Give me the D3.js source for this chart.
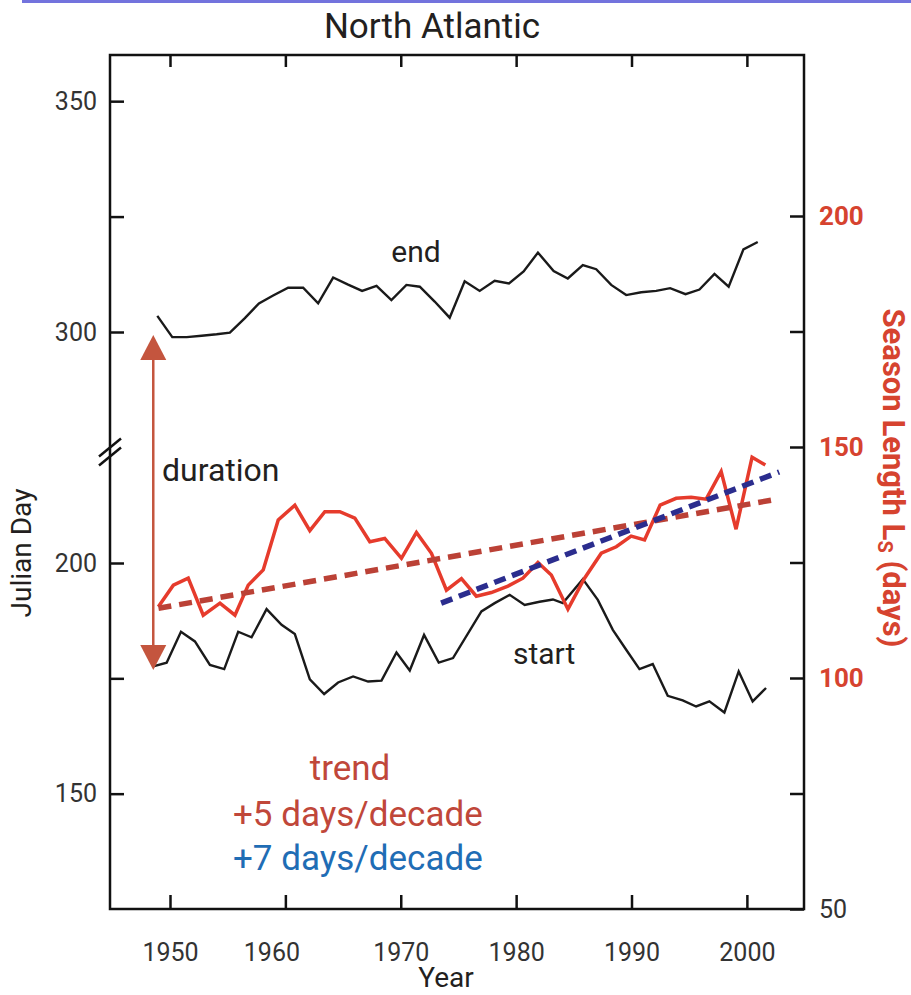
<!DOCTYPE html>
<html>
<head>
<meta charset="utf-8">
<script src="https://cdn.jsdelivr.net/npm/d3@7"></script>
<style>
  body { margin: 0; background: #fff; }
  svg { display: block; font-family: Roboto, "Open Sans", sans-serif; }
</style>
</head>
<body>
<div id="chart"></div>
<script>
// values (years are where the vertices sit on the axis)
var endYear = [1948.9, 1950.2, 1951.45, 1952.74, 1954.04, 1955.19, 1956.49, 1957.71, 1958.94, 1960.24,
  1961.54, 1962.84, 1964.14, 1965.39, 1966.65, 1967.9, 1969.19, 1970.49, 1971.65, 1972.94,
  1974.24, 1975.54, 1976.84, 1978.14, 1979.38, 1980.65, 1981.89, 1983.25, 1984.48, 1985.78,
  1986.94, 1988.24, 1989.54, 1990.84, 1992.14, 1993.35, 1994.68, 1995.89, 1997.19, 1998.42,
  1999.7, 2000.94]
var endDay = [303.5, 297.8, 297.8, 298.4, 299.0, 299.7, 303.0, 306.2, 307.9, 309.6,
  309.6, 306.2, 311.8, 310.3, 308.9, 310.0, 306.9, 310.2, 309.8, 306.6,
  303.1, 311.0, 308.9, 311.1, 310.5, 313.1, 317.2, 313.2, 311.6, 314.5,
  313.6, 310.2, 308.0, 308.6, 308.9, 309.5, 308.2, 309.2, 312.6, 309.8,
  317.9, 319.5]

var startYear = [1948.55, 1949.71, 1950.95, 1952.16, 1953.46, 1954.7, 1955.91, 1957.07, 1958.37, 1959.67,
  1960.82, 1962.12, 1963.36, 1964.57, 1965.87, 1967.17, 1968.33, 1969.63, 1970.78, 1972.02,
  1973.29, 1974.53, 1976.99, 1978.14, 1979.44, 1980.74, 1982.03, 1983.19, 1984.05, 1985.78,
  1987.08, 1988.38, 1989.54, 1990.69, 1991.84, 1993.14, 1994.44, 1995.6, 1996.75, 1998.05,
  1999.29, 2000.5, 2001.66]
var startDay = [177.6, 178.4, 185.1, 183.0, 177.9, 177.0, 185.1, 183.9, 190.0, 186.6,
  184.6, 174.8, 171.6, 174.1, 175.4, 174.3, 174.5, 180.6, 176.7, 184.4,
  178.4, 179.4, 189.5, 191.3, 193.1, 190.9, 191.6, 192.1, 191.3, 196.5,
  192.0, 185.5, 181.2, 177.0, 178.1, 171.2, 170.2, 168.9, 170.0, 167.6,
  176.5, 170.0, 172.9]

var lenYear = [1948.99, 1950.29, 1951.58, 1952.88, 1954.33, 1955.63, 1956.78, 1958.08, 1959.38, 1960.82,
  1962.12, 1963.42, 1964.72, 1966.02, 1967.32, 1968.61, 1970.06, 1971.36, 1972.66, 1973.96,
  1975.26, 1976.55, 1977.85, 1979.29, 1980.59, 1981.89, 1983.05, 1984.49, 1985.93, 1987.38,
  1988.68, 1989.97, 1991.13, 1992.48, 1993.87, 1995.17, 1996.47, 1997.77, 1999.06, 2000.45,
  2001.6]
var lenDays = [115.4, 120.1, 121.6, 113.6, 116.2, 113.6, 120.1, 123.4, 134.2, 137.4,
  131.9, 136.0, 136.0, 134.6, 129.5, 130.2, 125.9, 131.5, 127.0, 119.0,
  121.5, 117.7, 118.5, 119.9, 121.6, 125.0, 122.3, 114.9, 121.6, 127.0,
  128.4, 130.7, 129.9, 137.4, 138.9, 139.1, 138.7, 144.7, 132.2, 147.8,
  146.1]

// trend lines (season length)
var trend5Year = [1949.0, 2002.6]
var trend5Len = [115.1, 138.7]
var trend7Year = [1973.5, 2002.8]
var trend7Len = [116.2, 144.6]

// duration arrow: from start to end
var arrowYear = 1948.55
var arrowDays = [176.8, 298.7]

var yearTicks = [1950, 1960, 1970, 1980, 1990, 2000]
var dayTicks = [150, 175, 200, 300, 325, 350]
var dayLabels = [150, 200, 300, 350]
var lenTicks = [50, 75, 100, 125, 150, 175, 200]
var lenLabels = [50, 100, 150, 200]

function drawChart() {
    var width = 911, height = 995
    var box = {left: 110, right: 804, top: 55, bottom: 909}

    var svg = d3.select("#chart").append("svg")
        .attr("width", width).attr("height", height)

    var x = d3.scaleLinear().domain([1944.8, 2004.95]).range([box.left, box.right])
    // julian day axis is broken between 200 and 300
    var yDay = d3.scaleLinear().domain([125, 200, 300, 360]).range([909, 563, 332, 55])
    var yLen = d3.scaleLinear().domain([50, 200]).range([909, 216])

    // thin blue rule at the very top of the slide
    svg.append("rect").attr("x", 22).attr("y", 0).attr("width", width - 22).attr("height", 3)
        .attr("fill", "#7373dd")

    svg.append("text").attr("x", 432).attr("y", 38).attr("text-anchor", "middle")
        .attr("font-size", 35).attr("fill", "#231f20").text("North Atlantic")

    var axisLayer = svg.append("g").classed("axisLayer", true)

    axisLayer.append("g").attr("transform", "translate(0," + box.bottom + ")")
        .call(d3.axisBottom(x).tickValues(yearTicks).tickFormat(d3.format("d"))
            .tickSizeInner(-14).tickSizeOuter(0).tickPadding(34))
    axisLayer.append("g").attr("transform", "translate(0," + box.top + ")")
        .call(d3.axisTop(x).tickValues(yearTicks).tickFormat("")
            .tickSizeInner(-12).tickSizeOuter(0))
    axisLayer.append("g").attr("transform", "translate(" + box.left + ",0)")
        .call(d3.axisLeft(yDay).tickValues(dayTicks)
            .tickFormat(function (d) { return dayLabels.indexOf(d) >= 0 ? d : "" })
            .tickSizeInner(-14).tickSizeOuter(0).tickPadding(13))
    var right = axisLayer.append("g").attr("transform", "translate(" + box.right + ",0)")
        .call(d3.axisRight(yLen).tickValues(lenTicks)
            .tickFormat(function (d) { return lenLabels.indexOf(d) >= 0 ? d : "" })
            .tickSizeInner(-14).tickSizeOuter(0).tickPadding(15))

    axisLayer.selectAll(".domain").remove()
    axisLayer.selectAll(".tick line").attr("stroke", "#111").attr("stroke-width", 2.5)
    axisLayer.selectAll(".tick text").attr("font-size", 25).attr("fill", "#333")
        .attr("font-family", "Roboto, sans-serif")
    // the 1960 label sits a little left of its tick in the original
    axisLayer.selectAll(".tick text").filter(function (d) { return d === 1960 })
        .attr("dx", -14)
    right.selectAll(".tick text").filter(function (d) { return d !== 50 })
        .attr("fill", "#d6432f").attr("font-weight", "bold").attr("font-size", 26)

    svg.append("rect")
        .attr("x", box.left).attr("y", box.top)
        .attr("width", box.right - box.left).attr("height", box.bottom - box.top)
        .attr("fill", "none").attr("stroke", "#111").attr("stroke-width", 2.5)

    // axis break marks
    var brk = axisLayer.append("g").attr("transform", "translate(" + box.left + ",452)")
    brk.append("path").attr("d", "M-11,5L11,-13L11,-4L-11,14Z").attr("fill", "#fff")
    brk.selectAll("line").data([-4.5, 4.5]).enter().append("line")
        .attr("x1", -11).attr("x2", 11)
        .attr("y1", function (d) { return d + 9 })
        .attr("y2", function (d) { return d - 9 })
        .attr("stroke", "#111").attr("stroke-width", 2.5)

    var chartLayer = svg.append("g").classed("chartLayer", true)

    var dayLine = d3.line().x(function (d) { return x(d[0]) }).y(function (d) { return yDay(d[1]) })
    var lenLine = d3.line().x(function (d) { return x(d[0]) }).y(function (d) { return yLen(d[1]) })

    chartLayer.append("path").datum(d3.zip(endYear, endDay))
        .attr("d", dayLine).attr("fill", "none").attr("stroke", "#1a1a1a").attr("stroke-width", 2.4)
    chartLayer.append("path").datum(d3.zip(startYear, startDay))
        .attr("d", dayLine).attr("fill", "none").attr("stroke", "#1a1a1a").attr("stroke-width", 2.4)
    chartLayer.append("path").datum(d3.zip(lenYear, lenDays))
        .attr("d", lenLine).attr("fill", "none").attr("stroke", "#e63b2c").attr("stroke-width", 3.5)
        .attr("stroke-linejoin", "miter")

    chartLayer.append("path").datum(d3.zip(trend5Year, trend5Len))
        .attr("d", lenLine).attr("fill", "none").attr("stroke", "#bb4136")
        .attr("stroke-width", 5.5).attr("stroke-dasharray", "13,8")
    chartLayer.append("path").datum(d3.zip(trend7Year, trend7Len))
        .attr("d", lenLine).attr("fill", "none").attr("stroke", "#2b2d8e")
        .attr("stroke-width", 5.5).attr("stroke-dasharray", "12,7")

    // duration arrow
    var ax = x(arrowYear)
    var yLow = yDay(arrowDays[0]), yHigh = yDay(arrowDays[1])
    var head = 25, half = 13
    var arrowColor = "#c4553e"
    chartLayer.append("line")
        .attr("x1", ax).attr("x2", ax).attr("y1", yHigh + head - 2).attr("y2", yLow - head + 2)
        .attr("stroke", arrowColor).attr("stroke-width", 2.5)
    chartLayer.append("path")
        .attr("d", "M" + ax + "," + yHigh + "L" + (ax + half) + "," + (yHigh + head) + "L" + (ax - half) + "," + (yHigh + head) + "Z")
        .attr("fill", arrowColor)
    chartLayer.append("path")
        .attr("d", "M" + ax + "," + yLow + "L" + (ax + half) + "," + (yLow - head) + "L" + (ax - half) + "," + (yLow - head) + "Z")
        .attr("fill", arrowColor)

    var notes = svg.append("g").attr("fill", "#231f20")
    notes.append("text").attr("x", 416).attr("y", 262).attr("text-anchor", "middle")
        .attr("font-size", 30).text("end")
    notes.append("text").attr("x", 162).attr("y", 481).attr("font-size", 32).text("duration")
    notes.append("text").attr("x", 513).attr("y", 664).attr("font-size", 30).text("start")

    notes.append("text").attr("x", 350).attr("y", 780).attr("text-anchor", "middle")
        .attr("font-size", 35).attr("fill", "#c0473a").text("trend")
    notes.append("text").attr("x", 233).attr("y", 826)
        .attr("font-size", 35).attr("fill", "#c0473a").text("+5 days/decade")
    notes.append("text").attr("x", 233).attr("y", 870)
        .attr("font-size", 35).attr("fill", "#1f6db5").text("+7 days/decade")

    // axis titles
    svg.append("text").attr("x", 446).attr("y", 987).attr("text-anchor", "middle")
        .attr("font-size", 28).attr("fill", "#231f20").text("Year")
    svg.append("text").attr("transform", "translate(31,553) rotate(-90)")
        .attr("text-anchor", "middle").attr("font-size", 28).attr("fill", "#231f20").text("Julian Day")
    var lt = svg.append("text").attr("transform", "translate(883,478) rotate(90)")
        .attr("text-anchor", "middle").attr("font-size", 31).attr("font-weight", "bold")
        .attr("fill", "#d6432f")
    lt.append("tspan").text("Season Length L")
    lt.append("tspan").attr("font-size", 20).attr("dy", 5).text("S")
    lt.append("tspan").attr("dy", -5).text(" (days)")
}

drawChart()
</script>
</body>
</html>
